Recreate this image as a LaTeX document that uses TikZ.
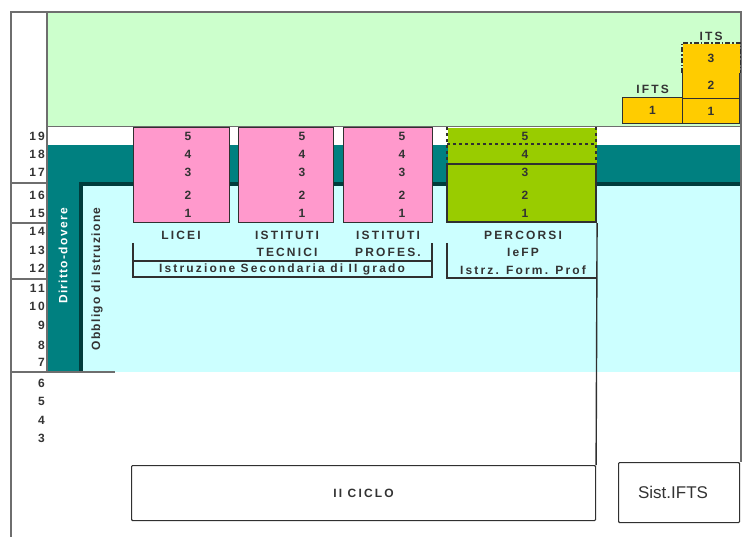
\documentclass[tikz,border=0pt]{standalone}
\usepackage{fontspec}
\setmainfont{Liberation Sans}
\newfontfamily\widefont[LetterSpace=18]{Liberation Sans}
\newfontfamily\vertfont[LetterSpace=11]{Liberation Sans}
\usetikzlibrary{positioning}

\definecolor{ltgreen}{HTML}{CCFFCC}
\definecolor{petrol}{HTML}{008080}
\definecolor{darkpetrol}{HTML}{003C3C}
\definecolor{ltcyan}{HTML}{CCFFFF}
\definecolor{pinkbox}{HTML}{FF99CC}
\definecolor{limebox}{HTML}{99CC00}
\definecolor{orangebox}{HTML}{FFCC00}
\definecolor{framegray}{HTML}{6E6E6E}
\definecolor{boxline}{HTML}{303030}
\definecolor{txt}{HTML}{333333}

\begin{document}
\begin{tikzpicture}[
  x=1pt, y=-1pt,
  font=\widefont\bfseries\fontsize{12}{17.5}\selectfont,
  frame/.style={draw=framegray, line width=1.4pt},
  box/.style={draw=boxline, line width=1.1pt, inner sep=0pt, anchor=north west},
  pk/.style={box, fill=pinkbox},
  its/.style={box, fill=orangebox, text=txt},
  yr/.style={inner sep=0pt, text=txt},
  lab/.style={inner sep=0pt, text=txt, align=center},
  brk/.style={draw=boxline, line width=1.1pt}
]
\useasboundingbox (0,0) rectangle (744,537);

% background bands
\fill[ltgreen] (48,13) rectangle (741,126);
\draw[framegray, line width=0.8pt] (48,126) -- (741,126);
\fill[petrol] (48,145) rectangle (741,184);
\fill[petrol] (48,145) rectangle (81,372);
\fill[ltcyan] (81,184) rectangle (741,372);
\draw[darkpetrol, line width=3.5pt] (81,372) -- (81,184) -- (741,184);

% frame and age column
\draw[frame] (11,537) -- (11,12) -- (741,12) -- (741,462);
\draw[frame] (47,12) -- (47,372);
\draw[frame, line width=2.5pt] (11,183) -- (47,183);
\draw[frame] (11,223) -- (47,223);
\draw[frame] (11,279) -- (47,279);
\draw[frame] (11,372) -- (115,372);
\foreach \a/\y in {19/136,18/154,17/172,16/195,15/213,14/231,13/250,12/268,
                   11/288,10/306,9/325,8/345,7/362,6/383,5/401,4/420,3/438}
  \node[yr, anchor=east] (age\a) at (45,\y) {\a};

\node[rotate=90, text=white, font=\vertfont\bfseries\fontsize{12}{12}\selectfont] (dirdov) at (63,256) {Diritto-dovere};
\node[rotate=90, text=txt, font=\vertfont\bfseries\fontsize{12}{12}\selectfont] (obbligo) at (97,279) {Obbligo di Istruzione};

% secondary school
\node[pk, minimum width=96pt, minimum height=95pt] (licei) at (133,127) {};
\node[pk, minimum width=95pt, minimum height=95pt] (tecnici) at (238,127) {};
\node[pk, minimum width=89pt, minimum height=95pt] (profes) at (343,127) {};
\node[box, draw=none, fill=limebox, minimum width=149pt, minimum height=95pt] (iefp) at (447,127) {};
\draw[brk] (447,164) rectangle (596,222);
\draw[brk, dashed] (447,127) -- (447,164);
\draw[brk, dashed] (596,127) -- (596,164);
\draw[brk, dashed, line width=1.8pt] (447,144) -- (596,144);
\foreach \n/\y in {5/136,4/154,3/172,2/195,1/213} {
  \node[yr] (lic\n) at (188,\y) {\n};
  \node[yr] (tec\n) at (302,\y) {\n};
  \node[yr] (pro\n) at (402,\y) {\n};
  \node[yr] (fp\n) at (525,\y) {\n};
}

\node[lab] (liceilab) at (181,235) {LICEI};
\node[lab] (teclab) at (287,244) {ISTITUTI\\TECNICI};
\node[lab] (prolab) at (388,244) {ISTITUTI\\PROFES.};
\node[lab] (fplab) at (523,252.5) {PERCORSI\\IeFP\\Istrz. Form. Prof};

\draw[brk] (133,243) -- (133,277) -- (432,277) -- (432,243);
\draw[brk] (133,261) -- (432,261);
\node[lab] (seclab) at (282,269.5) {Istruzione Secondaria di II grado};
\draw[brk] (447,243) -- (447,278) -- (596,278);

% higher technical
\node[its, minimum width=60pt, minimum height=26pt] (ifts1) at (622,97) {1};
\node[its, minimum width=57pt, minimum height=25pt] (its1) at (682,98) {1};
\node[its, minimum width=57pt, minimum height=26pt] (its2) at (682,72) {2};
\node[its, draw=none, minimum width=57pt, minimum height=29pt] (its3) at (682,43) {3};
\draw[brk, dash pattern=on 5pt off 2pt on 1.5pt off 2pt] (its3.south west) -- (its3.north west) -- (its3.north east) -- (its3.south east);
\node[lab, above=3pt of ifts1] (iftslab) {IFTS};
\node[lab, above=2pt of its3] (itslab) {ITS};

% bottom boxes
\node[box, rounded corners=1pt, minimum width=464pt, minimum height=55pt, text=txt] (ciclo) at (131,465) {II CICLO};
\node[box, rounded corners=1pt, minimum width=121pt, minimum height=60pt] (sist) at (618,462) {};
\node[text=txt, inner sep=0pt, font=\mdseries\fontsize{17}{19}\selectfont\normalfont] (sistlab) at ([xshift=-6pt]sist.center) {Sist.IFTS};
\draw[frame, draw=boxline] (iefp.south east) -- (ciclo.north east);
\end{tikzpicture}
\end{document}
